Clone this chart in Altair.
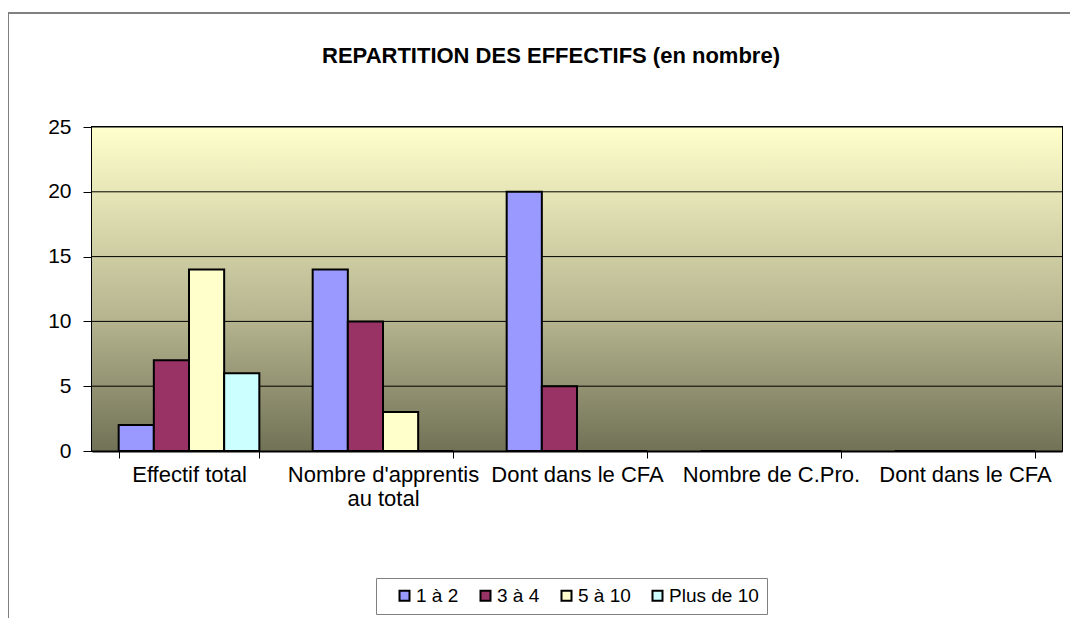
import altair as alt
import pandas as pd

title_text = "REPARTITION DES EFFECTIFS (en nombre)"
categories = ["Effectif total", "Nombre d'apprentis|au total", "Dont dans le CFA",
              "Nombre de C.Pro.", "Dont dans le CFA"]
series = ["1 à 2", "3 à 4", "5 à 10", "Plus de 10"]
v_1a2 = [2, 14, 20, 0, 0]
v_3a4 = [7, 10, 5, 0, 0]
v_5a10 = [14, 3, 0, 0, 0]
v_plus10 = [6, 0, 0, 0, 0]
y_ticks = [0, 5, 10, 15, 20, 25]
colors = ["#9999FF", "#993366", "#FFFFCC", "#CCFFFF"]

rows = []
for s, vals in zip(series, [v_1a2, v_3a4, v_5a10, v_plus10]):
    for i, v in enumerate(vals):
        rows.append({"idx": i, "serie": s, "value": v})
df = pd.DataFrame(rows)

W, H = 970, 324
FONT = "Liberation Sans"

label_arr = "[" + ",".join("'" + c.replace("'", "\\'") + "'" for c in categories) + "]"
label_expr = ("isValid(" + label_arr + "[datum.value]) ? split(" + label_arr
              + "[datum.value], '|') : ''")

gradient = alt.LinearGradient(
    gradient="linear",
    stops=[alt.GradientStop(color="#FFFFCC", offset=0),
           alt.GradientStop(color="#B4B38E", offset=0.6),
           alt.GradientStop(color="#717156", offset=1)],
    x1=0, x2=0, y1=0, y2=1,
)

yscale = alt.Scale(domain=[0, 25], nice=False)

bg = alt.Chart(pd.DataFrame({"a": [0]})).mark_rect(color=gradient).encode(
    x=alt.value(0), x2=alt.value(W), y=alt.value(0), y2=alt.value(H))

grid = alt.Chart(pd.DataFrame({"t": y_ticks})).mark_rule(color="black", strokeWidth=1).encode(
    y=alt.Y("t:Q", scale=yscale))

bars = alt.Chart(df).mark_bar(stroke="black", strokeWidth=2).encode(
    x=alt.X("idx:O", title=None,
            scale=alt.Scale(paddingInner=0.275, paddingOuter=0.1375),
            axis=alt.Axis(labelExpr=label_expr, labelLimit=400,
                          labelAngle=0, labelFont=FONT, labelFontSize=22,
                          labelColor="black", labelLineHeight=24,
                          labelPadding=6, tickSize=7, tickColor="black",
                          tickBand="extent", domainColor="black", domainWidth=2,
                          grid=False)),
    xOffset=alt.XOffset("serie:N", sort=series,
                        scale=alt.Scale(paddingInner=0, paddingOuter=0)),
    y=alt.Y("value:Q", title=None, scale=yscale,
            axis=alt.Axis(values=y_ticks, labelFont=FONT, grid=False,
                          labelFontSize=21, labelColor="black", labelPadding=12,
                          tickSize=9, tickColor="black", domainColor="black",
                          domainWidth=2)),
    color=alt.Color("serie:N", sort=series,
                    scale=alt.Scale(domain=series, range=colors),
                    legend=alt.Legend(title=None, orient="none", direction="horizontal",
                                      legendX=284, legendY=451, padding=8,
                                      strokeColor="#808080", symbolType="square",
                                      symbolSize=100, symbolStrokeColor="black",
                                      symbolStrokeWidth=2, symbolOffset=11,
                                      labelFont=FONT, labelFontSize=19,
                                      labelColor="black", labelOffset=2,
                                      columnPadding=6, columns=4)),
)

title = alt.Chart(pd.DataFrame({"t": [title_text]})).mark_text(
    font=FONT, fontSize=22, fontWeight="bold", color="black",
    align="center", baseline="middle"
).encode(text="t:N", x=alt.value(459), y=alt.value(-71))

border = alt.Chart(pd.DataFrame({"a": [0]})).mark_rect(
    fillOpacity=0, stroke="#808080", strokeWidth=2
).encode(x=alt.value(-84), x2=alt.value(1100), y=alt.value(-114), y2=alt.value(700))

chart = alt.layer(bg, grid, bars, title, border).properties(
    width=W, height=H,
    padding={"left": 84, "top": 119, "right": 8, "bottom": 167},
    autosize=alt.AutoSizeParams(type="none"),
    background="white",
).configure_view(stroke="black", strokeWidth=2)

chart.save("out.html", embed_options={"renderer": "svg", "actions": False})
